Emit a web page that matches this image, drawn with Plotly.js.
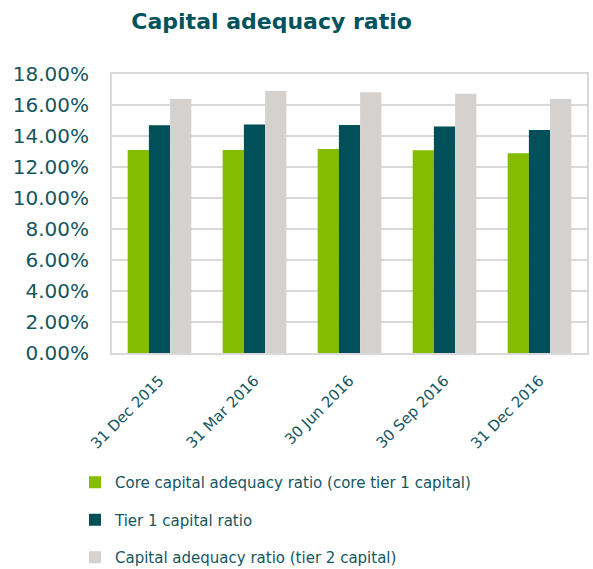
<!DOCTYPE html>
<html>
<head>
<meta charset="utf-8">
<script src="https://cdn.plot.ly/plotly-3.0.1.min.js"></script>
<style>html,body{margin:0;padding:0;background:#fff;}#chart{width:593px;height:569px;}</style>
</head>
<body>
<div id="chart"></div>
<script>
const categories = ["31 Dec 2015", "31 Mar 2016", "30 Jun 2016", "30 Sep 2016", "31 Dec 2016"];
const coreTier1 = [13.10, 13.10, 13.16, 13.08, 12.88];
const tier1 = [14.69, 14.75, 14.71, 14.62, 14.39];
const tier2 = [16.39, 16.90, 16.82, 16.73, 16.39];
const seriesNames = [
  "Core capital adequacy ratio (core tier 1 capital)",
  "Tier 1 capital ratio",
  "Capital adequacy ratio (tier 2 capital)"
];
const colors = ["#84bd00", "#004f59", "#d4d1ce"];
const textColor = "#14565f";
const font = "'DejaVu Sans', sans-serif";

const series = [coreTier1, tier1, tier2];
const data = series.map((vals, i) => ({
  type: "bar",
  x: categories,
  y: vals,
  name: seriesNames[i],
  legendgroup: "g" + i,
  marker: {color: colors[i]},
  hoverinfo: "x+y+name"
}));

const W = 593, H = 569;
const M = {l: 112, r: 6, t: 74, b: 216};
const plotW = W - M.l - M.r, plotH = H - M.t - M.b;

const layout = {
  width: W, height: H,
  margin: {l: M.l, r: M.r, t: M.t, b: M.b, autoexpand: false},
  paper_bgcolor: "#fff", plot_bgcolor: "#fff",
  font: {family: font, color: textColor},
  title: {
    text: "<b>Capital adequacy ratio</b>",
    font: {family: font, size: 22, color: "#00535c"},
    x: 0.458, xanchor: "center", xref: "container",
    y: 0.962, yanchor: "middle", yref: "container"
  },
  barmode: "group",
  bargap: 0.33,
  bargroupgap: 0,
  xaxis: {
    type: "category",
    tickangle: -45,
    tickfont: {family: font, size: 15, color: textColor},
    showline: true, mirror: true, linecolor: "#d9d9d9", linewidth: 2,
    showgrid: false, zeroline: false,
    ticks: "outside", ticklen: 11, tickcolor: "rgba(0,0,0,0)"
  },
  yaxis: {
    range: [0, 18],
    dtick: 2, tick0: 0,
    tickformat: ".2f", ticksuffix: "%",
    tickfont: {family: font, size: 20, color: textColor},
    showgrid: true, gridcolor: "#d9d9d9", gridwidth: 2,
    showline: true, mirror: true, linecolor: "#d9d9d9", linewidth: 2,
    zeroline: false,
    ticks: "outside", ticklen: 17, tickcolor: "rgba(0,0,0,0)"
  },
  showlegend: true,
  legend: {
    orientation: "v",
    x: (75 - M.l) / plotW, xref: "paper", xanchor: "left",
    y: (H - M.b - 466) / plotH, yref: "paper", yanchor: "top",
    font: {family: font, size: 15, color: textColor},
    traceorder: "grouped",
    tracegroupgap: 15,
    bgcolor: "rgba(0,0,0,0)"
  }
};

Plotly.newPlot("chart", data, layout, {displayModeBar: false, staticPlot: true});
</script>
</body>
</html>
